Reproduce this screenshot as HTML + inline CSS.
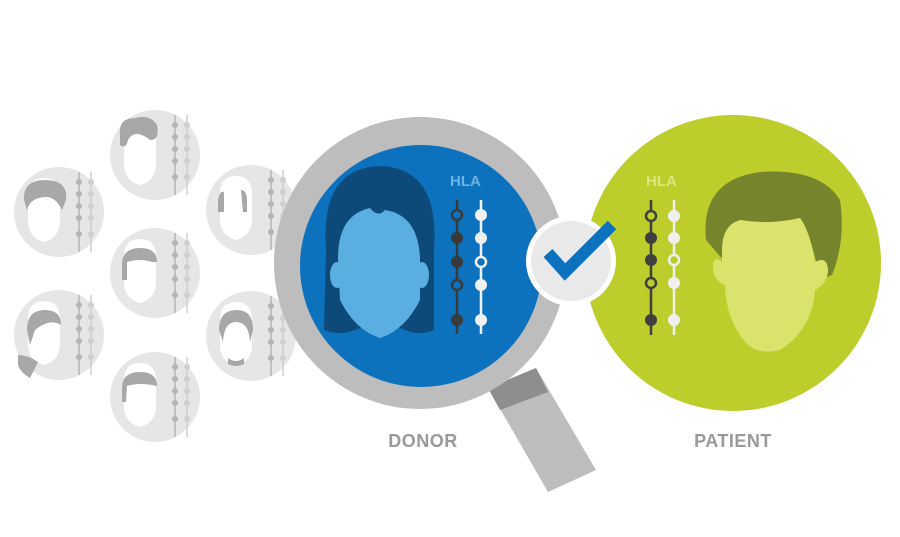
<!DOCTYPE html>
<html><head><style>html,body{margin:0;padding:0;background:#fff;}svg{display:block}</style></head>
<body>
<svg width="900" height="537" viewBox="0 0 900 537" xmlns="http://www.w3.org/2000/svg" font-family="Liberation Sans, sans-serif">
<defs>
<g id="chain">
<line x1="0" y1="-40" x2="0" y2="40" stroke="#b5b5b5" stroke-width="1.5"/>
<circle cx="0" cy="-30" r="3" fill="#b5b5b5"/><circle cx="0" cy="-18" r="3" fill="#b5b5b5"/><circle cx="0" cy="-6" r="3" fill="#b5b5b5"/><circle cx="0" cy="6" r="3" fill="#b5b5b5"/><circle cx="0" cy="22" r="3" fill="#b5b5b5"/>
<line x1="12" y1="-40" x2="12" y2="40" stroke="#cfcfcf" stroke-width="1.5"/>
<circle cx="12" cy="-30" r="3" fill="#cfcfcf"/><circle cx="12" cy="-18" r="3" fill="#cfcfcf"/><circle cx="12" cy="-6" r="3" fill="#cfcfcf"/><circle cx="12" cy="6" r="3" fill="#cfcfcf"/><circle cx="12" cy="22" r="3" fill="#cfcfcf"/>
</g>
<g id="small">
<circle cx="0" cy="0" r="45" fill="#e6e6e6"/>
<path d="M-31,-16 Q-31,-34 -15,-34 Q1,-34 1,-16 L1,8 Q1,26 -15,30 Q-31,26 -31,8 Z" fill="#fff"/>
<use href="#chain" x="20" y="0"/>
</g>
</defs>
<g>
<use href="#small" x="155" y="155"/><path d="M120,135 Q118,118 135,118 Q150,114 157,125 Q160,140 150,140 Q135,128 128,140 Q126,150 120,145 Z" fill="#a8a8a8"/>
<use href="#small" x="59" y="212"/><path d="M24,200 Q23,180 45,180 Q68,180 66,200 L62,210 Q55,196 45,197 Q30,198 27,210 Z" fill="#a8a8a8"/>
<use href="#small" x="251" y="210"/><path d="M218,200 Q220,190 224,192 L224,212 L218,212 Z M241,190 Q246,190 247,198 L247,212 L243,212 Z" fill="#a8a8a8"/>
<use href="#small" x="155" y="273"/><path d="M122,265 Q122,248 140,248 Q157,248 157,262 L152,262 Q140,258 127,262 L127,280 L122,280 Z" fill="#a8a8a8"/>
<use href="#small" x="59" y="335"/><path d="M27,330 Q27,310 45,310 Q61,310 61,325 Q50,318 35,330 L30,345 Z M18,355 Q28,355 38,362 L30,378 Q20,372 18,365 Z" fill="#a8a8a8"/>
<use href="#small" x="251" y="336"/><path d="M219,330 Q219,310 237,310 Q253,310 253,330 L250,342 Q249,322 236,322 Q224,322 223,342 Z M228,358 Q236,364 244,358 L244,364 Q236,368 228,364 Z" fill="#a8a8a8"/>
<use href="#small" x="155" y="397"/><path d="M122,388 Q122,372 140,372 Q157,372 157,386 Q140,382 127,386 L126,402 L122,402 Z" fill="#a8a8a8"/>
</g>
<polygon points="488,388 536,368 596,470 548,492" fill="#bdbdbd"/>
<polygon points="488,388 536,368 548,392 500,410" fill="#8e8e8e"/>
<circle cx="420" cy="263" r="146" fill="#bdbdbd"/>
<circle cx="421" cy="266" r="121" fill="#0d72bd"/>
<path d="M326,250 Q320,168 380,166 Q440,168 434,250 L434,330 Q418,336 405,330 L380,320 L355,330 Q338,336 324,330 Z" fill="#0d4a7a"/>
<path d="M338,258 Q338,215 370,208 Q378,218 385,210 Q418,215 420,258 L420,300 Q405,330 380,338 Q355,330 340,300 Z" fill="#5aaee2"/>
<ellipse cx="337" cy="275" rx="7" ry="13" fill="#5aaee2"/>
<ellipse cx="422" cy="275" rx="7" ry="13" fill="#5aaee2"/>
<text x="450" y="186" font-size="15" font-weight="bold" fill="#6ab4e6">HLA</text>
<line x1="457" y1="200" x2="457" y2="334" stroke="#3a3a3a" stroke-width="2.5"/>
<line x1="481" y1="200" x2="481" y2="334" stroke="#f0f0f0" stroke-width="2.5"/>
<g stroke-width="2.5">
<circle cx="457" cy="215" r="5" fill="#0d72bd" stroke="#3a3a3a"/>
<circle cx="457" cy="238" r="6" fill="#3a3a3a"/>
<circle cx="457" cy="262" r="6" fill="#3a3a3a"/>
<circle cx="457" cy="285" r="5" fill="#0d72bd" stroke="#3a3a3a"/>
<circle cx="457" cy="320" r="6" fill="#3a3a3a"/>
<circle cx="481" cy="215" r="6" fill="#f0f0f0"/>
<circle cx="481" cy="238" r="6" fill="#f0f0f0"/>
<circle cx="481" cy="262" r="5" fill="#0d72bd" stroke="#f0f0f0"/>
<circle cx="481" cy="285" r="6" fill="#f0f0f0"/>
<circle cx="481" cy="320" r="6" fill="#f0f0f0"/>
</g>
<circle cx="733" cy="263" r="148" fill="#bccd2c"/>
<text x="646" y="186" font-size="15" font-weight="bold" fill="#dde67a">HLA</text>
<line x1="651" y1="200" x2="651" y2="335" stroke="#3f3f3f" stroke-width="2.5"/>
<line x1="674" y1="200" x2="674" y2="335" stroke="#f0f0f0" stroke-width="2.5"/>
<g stroke-width="2.5">
<circle cx="651" cy="216" r="5" fill="#bccd2c" stroke="#3f3f3f"/>
<circle cx="651" cy="238" r="6" fill="#3f3f3f"/>
<circle cx="651" cy="260" r="6" fill="#3f3f3f"/>
<circle cx="651" cy="283" r="5" fill="#bccd2c" stroke="#3f3f3f"/>
<circle cx="651" cy="320" r="6" fill="#3f3f3f"/>
<circle cx="674" cy="216" r="6" fill="#f0f0f0"/>
<circle cx="674" cy="238" r="6" fill="#f0f0f0"/>
<circle cx="674" cy="260" r="5" fill="#bccd2c" stroke="#f0f0f0"/>
<circle cx="674" cy="283" r="6" fill="#f0f0f0"/>
<circle cx="674" cy="320" r="6" fill="#f0f0f0"/>
</g>
<path d="M706,240 Q700,180 760,172 Q820,168 840,200 Q846,240 832,275 L820,280 Q810,230 800,218 Q770,225 740,220 L725,262 Z" fill="#76852c"/>
<path d="M722,250 Q722,225 740,220 Q770,225 800,218 Q810,232 815,262 Q828,255 828,272 Q826,285 815,290 Q812,330 780,350 Q760,355 748,345 Q726,322 725,285 Q712,280 713,265 Q714,255 722,262 Z" fill="#dbe36c"/>
<circle cx="571" cy="261" r="45" fill="#fff"/>
<circle cx="571" cy="261" r="40" fill="#e9e9e9"/>
<polyline points="548,253 565,272 612,225" fill="none" stroke="#0d72bd" stroke-width="12"/>
<text x="423" y="447" font-size="18" font-weight="bold" fill="#9a9a9a" text-anchor="middle" letter-spacing="0.5">DONOR</text>
<text x="733" y="447" font-size="18" font-weight="bold" fill="#9a9a9a" text-anchor="middle" letter-spacing="0.5">PATIENT</text>
</svg>
</body></html>
